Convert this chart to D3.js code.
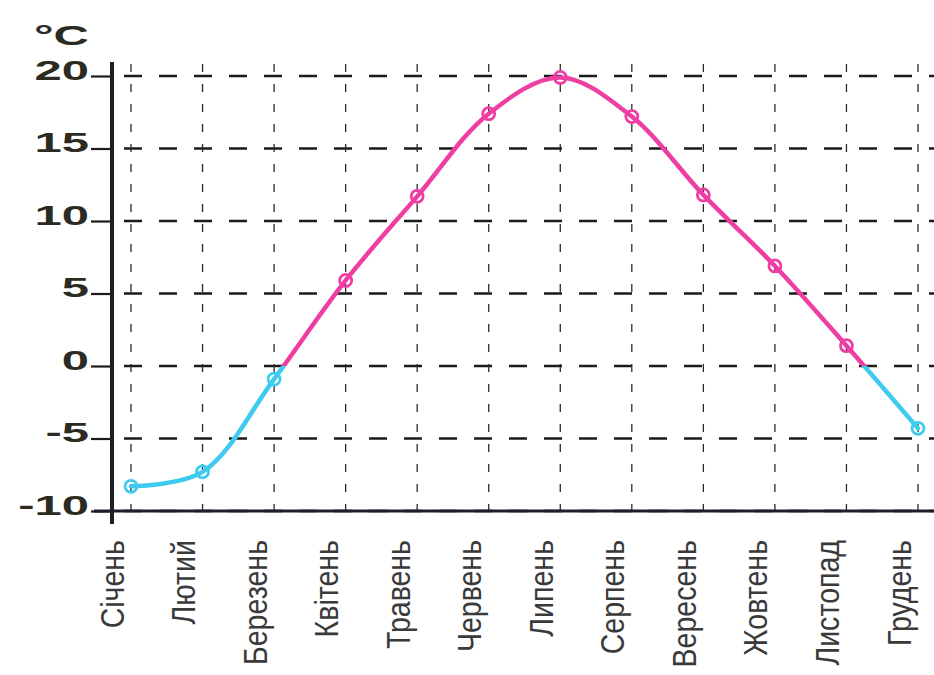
<!DOCTYPE html>
<html>
<head>
<meta charset="utf-8">
<script src="https://cdn.jsdelivr.net/npm/d3@7"></script>
<style>
  body { margin: 0; background: #fff; }
  svg { display: block; }
</style>
</head>
<body>
<div class="chart"></div>
<script>
// місяці та середня температура (°C)
const months = ['Січень', 'Лютий', 'Березень', 'Квітень', 'Травень', 'Червень',
                'Липень', 'Серпень', 'Вересень', 'Жовтень', 'Листопад', 'Грудень'];
const temps = [-8.3, -7.3, -0.9, 5.9, 11.7, 17.4, 19.9, 17.2, 11.8, 6.9, 1.4, -4.3];
const yTicks = [-10, -5, 0, 5, 10, 15, 20];
const unitLabel = '°C';

const width = 934, height = 675;
const warm = '#ef3ea3', cold = '#3ecbef';

const data = months.map((m, i) => ({month: m, t: temps[i]}));

const xScale = d3.scalePoint()
    .domain(months)
    .range([131, 918]);
const yScale = d3.scaleLinear()
    .domain([-10, 20])
    .range([511, 76]);

const svg = d3.select('.chart')
    .append('svg')
    .attr('width', width)
    .attr('height', height);

// horizontal grid
svg.append('g')
    .selectAll('line')
    .data(yTicks)
    .enter()
    .append('line')
    .attr('x1', 124)
    .attr('x2', width)
    .attr('y1', d => yScale(d))
    .attr('y2', d => yScale(d))
    .attr('stroke', '#1b1b1b')
    .attr('stroke-width', 2.6)
    .attr('stroke-dasharray', '18,17');

// vertical grid
svg.append('g')
    .selectAll('line')
    .data(months)
    .enter()
    .append('line')
    .attr('x1', d => xScale(d))
    .attr('x2', d => xScale(d))
    .attr('y1', 64)
    .attr('y2', 522)
    .attr('stroke', '#2a2a2a')
    .attr('stroke-width', 1.3)
    .attr('stroke-dasharray', '8,12');

// y axis
const yAxis = d3.axisLeft(yScale)
    .tickValues(yTicks)
    .tickFormat(d => String(d))
    .tickSize(21)
    .tickSizeOuter(0);

const yg = svg.append('g')
    .attr('class', 'axis y-axis')
    .attr('transform', 'translate(112,0)')
    .call(yAxis);

yg.select('.domain').remove();
yg.selectAll('.tick line')
    .attr('stroke', '#1c1c1c')
    .attr('stroke-width', 2.2);
yg.selectAll('.tick text')
    .attr('x', null)
    .attr('dy', null)
    .attr('transform', 'translate(-23,3) scale(1.75,1)')
    .attr('font-family', 'Liberation Sans, Arial, sans-serif')
    .attr('font-weight', 'bold')
    .attr('font-size', 28)
    .attr('fill', '#2b2b24');

// °C label
svg.append('text')
    .attr('transform', 'translate(89,45) scale(1.75,1)')
    .attr('text-anchor', 'end')
    .attr('font-family', 'Liberation Sans, Arial, sans-serif')
    .attr('font-weight', 'bold')
    .attr('font-size', 28)
    .attr('fill', '#2b2b24')
    .text(unitLabel);

// x axis
const xAxis = d3.axisBottom(xScale)
    .tickSize(0)
    .tickSizeOuter(0);

const xg = svg.append('g')
    .attr('class', 'axis x-axis')
    .attr('transform', `translate(0,${yScale(-10)})`)
    .call(xAxis);

xg.select('.domain').remove();
xg.selectAll('.tick text')
    .attr('y', null)
    .attr('dy', null)
    .attr('text-anchor', 'end')
    .attr('transform', 'translate(-8,29) rotate(-90) scale(0.84,1)')
    .attr('font-family', 'Liberation Sans, Arial, sans-serif')
    .attr('font-size', 34)
    .attr('fill', '#3a3a3a');

// axis lines
svg.append('line')
    .attr('x1', 94)
    .attr('x2', width)
    .attr('y1', yScale(-10))
    .attr('y2', yScale(-10))
    .attr('stroke', '#1a1f2b')
    .attr('stroke-width', 3);
svg.append('line')
    .attr('x1', 112)
    .attr('x2', 112)
    .attr('y1', 62)
    .attr('y2', 524)
    .attr('stroke', '#1a1f2b')
    .attr('stroke-width', 4);

// temperature curve, split at 0
const defs = svg.append('defs');
defs.append('clipPath').attr('id', 'above')
    .append('rect')
    .attr('x', 0).attr('y', 0)
    .attr('width', width).attr('height', yScale(0));
defs.append('clipPath').attr('id', 'below')
    .append('rect')
    .attr('x', 0).attr('y', yScale(0))
    .attr('width', width).attr('height', height - yScale(0));

const line = d3.line()
    .x(d => xScale(d.month))
    .y(d => yScale(d.t))
    .curve(d3.curveCatmullRom.alpha(0.5));

[['above', warm], ['below', cold]].forEach(([id, col]) => {
    svg.append('path')
        .datum(data)
        .attr('clip-path', `url(#${id})`)
        .attr('fill', 'none')
        .attr('stroke', col)
        .attr('stroke-width', 4.5)
        .attr('stroke-linecap', 'round')
        .attr('d', line);
});

svg.selectAll('.pt')
    .data(data)
    .enter()
    .append('circle')
    .attr('class', 'pt')
    .attr('cx', d => xScale(d.month))
    .attr('cy', d => yScale(d.t))
    .attr('r', 6)
    .attr('fill', 'none')
    .attr('stroke', d => d.t >= 0 ? warm : cold)
    .attr('stroke-width', 2.8);
</script>
</body>
</html>
